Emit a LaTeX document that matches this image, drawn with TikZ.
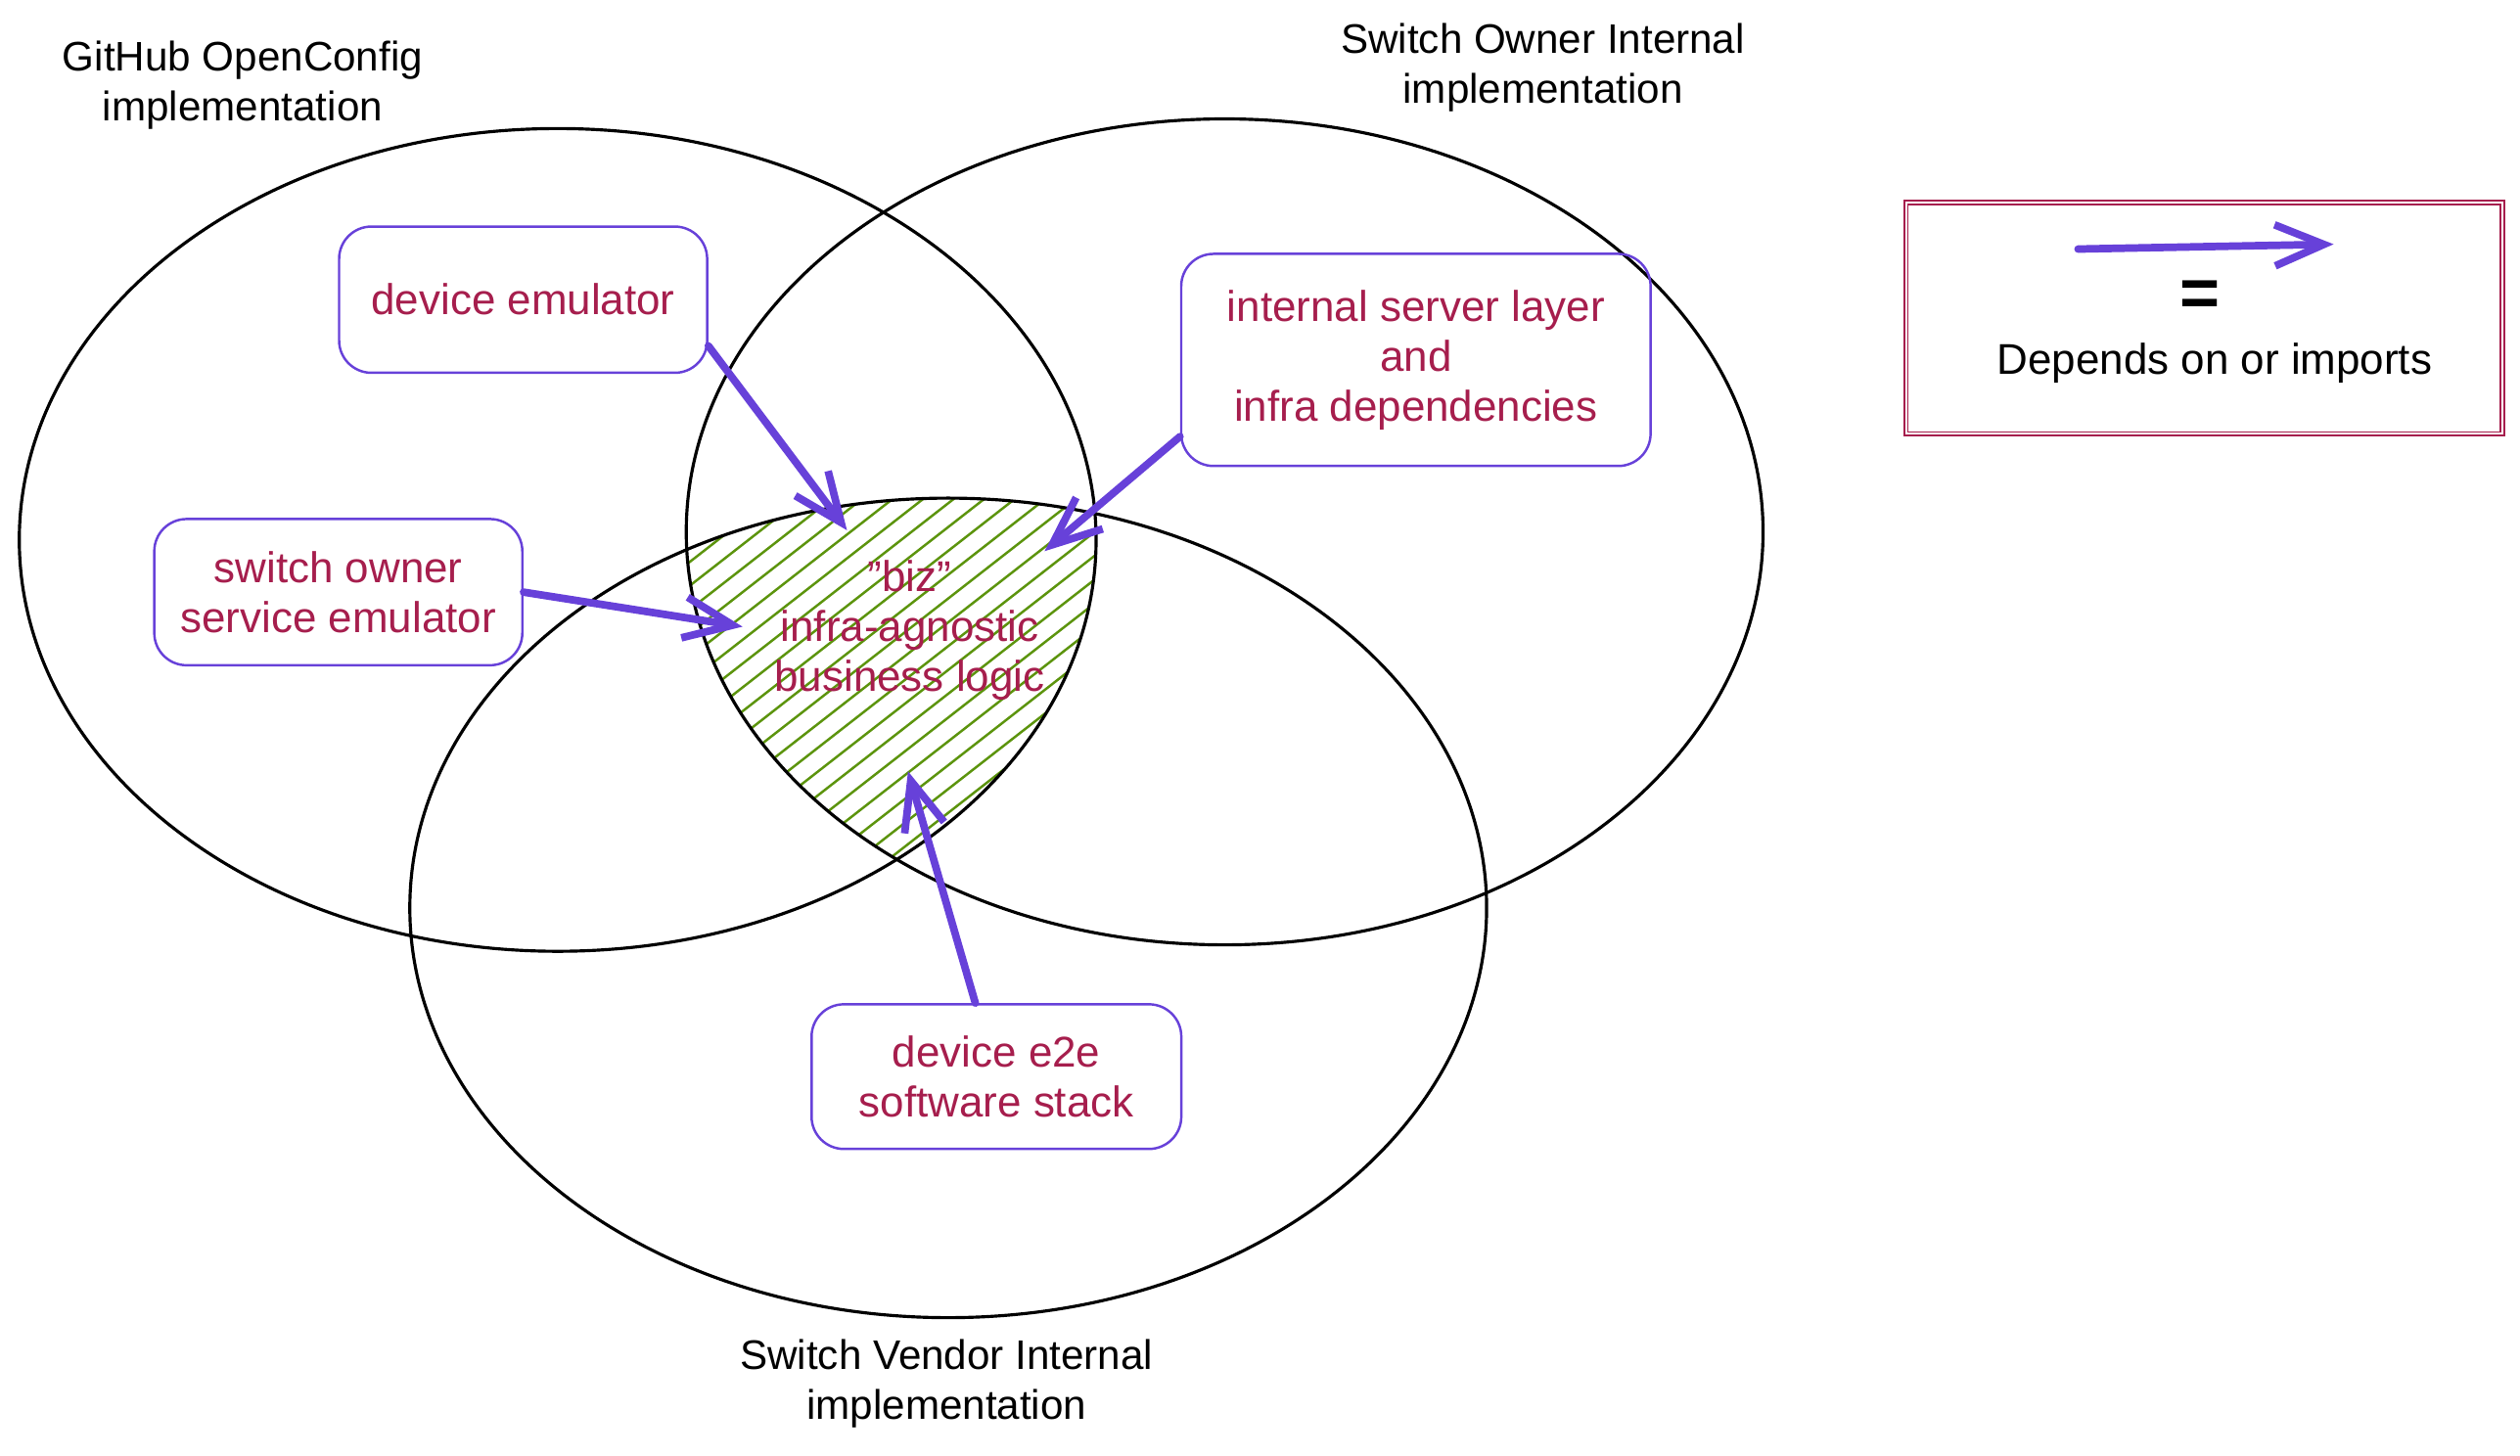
\documentclass[tikz,border=0pt]{standalone}
\usepackage{fontspec}
\setmainfont{Liberation Sans}
\usetikzlibrary{arrows.meta}
\definecolor{violetb}{HTML}{6741D9}
\definecolor{crim}{HTML}{A61E4D}
\definecolor{hatchgreen}{HTML}{5C940D}
\begin{document}
\begin{tikzpicture}[x=0.01642cm,y=-0.01642cm,
  every node/.style={font=\fontsize{12.5}{14.5}\selectfont},
  comp/.style={draw=violetb, line width=0.7pt, rounded corners=0.33cm, text=crim, align=center, inner sep=0pt},
  region/.style={draw=black, line width=0.9pt},
  title/.style={align=center, text=black, font=\fontsize{12}{14.5}\selectfont},
  dep/.style={draw=violetb, line width=2.2pt, line cap=round, -{Straight Barb[length=0.5cm,width=0.42cm]}},
  hatchline/.style={draw=hatchgreen, line width=0.7pt}]
\useasboundingbox (0,0) rectangle (1568,906);
% hatched intersection
\begin{scope}
\clip (347,336) ellipse [x radius=335, y radius=256];
\clip (762,331) ellipse [x radius=335, y radius=257];
\clip (590,565) ellipse [x radius=335, y radius=255];
\foreach \i in {0,...,34} \draw[hatchline] ({0+\i*19},640) -- ++(450,-351);
\end{scope}
% regions
\draw[region] (347,336) ellipse [x radius=335, y radius=256];
\draw[region] (762,331) ellipse [x radius=335, y radius=257];
\draw[region] (590,565) ellipse [x radius=335, y radius=255];
% titles
\node[title] (tgh) at (151,53) {GitHub OpenConfig\\implementation};
\node[title] (tso) at (960,42) {Switch Owner Internal\\implementation};
\node[title] (tsv) at (589,861) {Switch Vendor Internal\\implementation};
% components
\node[comp, minimum width=3.76cm, minimum height=1.494cm] (de) at (325.5,186.5) {device emulator};
\node[comp, minimum width=3.76cm, minimum height=1.494cm] (so) at (210.5,368.5) {switch owner\\service emulator};
\node[comp, minimum width=4.795cm, minimum height=2.167cm] (isl) at (881,224) {internal server layer\\and\\infra dependencies};
\node[comp, minimum width=3.777cm, minimum height=1.478cm] (e2e) at (620,670) {device e2e\\software stack};
\node[text=crim, align=center] (biz) at (566,392) {"biz"\\infra-agnostic\\business logic};
% dependencies
\coordinate (t1) at (527,330);
\coordinate (t2) at (650,343);
\coordinate (t3) at (462,390);
\coordinate (t4) at (565,480);
\draw[dep] (de.-14) -- (t1);
\draw[dep] (isl.198) -- (t2);
\draw[dep] (so.east) -- (t3);
\draw[dep] (e2e.106) -- (t4);
% legend
\node[draw=crim, line width=0.5pt, double, double distance=0.5pt, minimum width=6.09cm, minimum height=2.364cm] (leg) at (1371.5,198) {};
\coordinate (la) at (1293,155);
\coordinate (lb) at (1452,152);
\draw[dep] (la) -- (lb);
\node (eq) at (1369,186) {\fontsize{20}{20}\selectfont\bfseries =};
\node (legtxt) at (1378,226) {Depends on or imports};
\end{tikzpicture}
\end{document}
